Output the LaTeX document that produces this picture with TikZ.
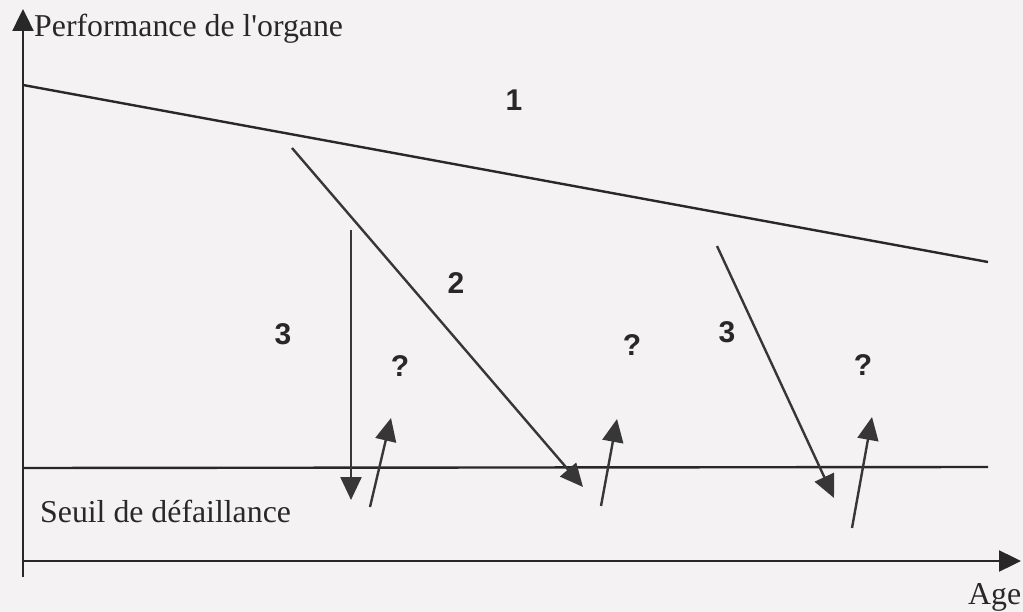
\documentclass[tikz,border=0pt]{standalone}
\usepackage{fontspec}
\setmainfont{Liberation Serif}
\newfontfamily\lblfont{Liberation Sans}
\usetikzlibrary{arrows.meta}
\definecolor{bgc}{RGB}{244,242,242}
\definecolor{inkc}{RGB}{40,40,40}
\definecolor{arrc}{RGB}{55,55,55}
\tikzset{
  serif/.style={inner sep=0pt, text=inkc, font=\fontsize{31.8}{36}\selectfont},
  numlbl/.style={inner sep=0pt, text=inkc, font=\lblfont\bfseries\fontsize{30}{34}\selectfont},
  axisline/.style={draw=inkc, line width=2.4pt, -{Triangle[length=22pt,width=21pt]}},
  plainline/.style={draw=inkc, line width=2.4pt},
  arrowline/.style={draw=arrc, line width=2.4pt, -{Triangle[length=23pt,width=21pt]}},
}
\begin{document}
\begin{tikzpicture}[x=1pt,y=-1pt]
\useasboundingbox (0,0) rectangle (1023,612);
\fill[bgc] (0,0) rectangle (1023,612);
% axes
\coordinate (ybot) at (23,577);
\coordinate (ytop) at (23,9);
\coordinate (xl) at (23,561);
\coordinate (xr) at (1021,561);
\draw[axisline] (ybot) -- (ytop);
\draw[axisline] (xl) -- (xr);
% curve 1 and threshold
\coordinate (c1a) at (23,85);
\coordinate (c1b) at (988,262);
\draw[plainline] (c1a) -- (c1b);
\coordinate (tha) at (23,468);
\coordinate (thb) at (988,467);
\draw[plainline] (tha) -- (thb);
% arrows
\coordinate (a2s) at (292,148);
\coordinate (a2e) at (583,487);
\draw[arrowline] (a2s) -- (a2e);
\coordinate (a3s) at (351,230);
\coordinate (a3e) at (351,500);
\draw[arrowline] (a3s) -- (a3e);
\coordinate (u1s) at (370,507);
\coordinate (u1e) at (391,418);
\draw[arrowline] (u1s) -- (u1e);
\coordinate (u2s) at (601,506);
\coordinate (u2e) at (617,419);
\draw[arrowline] (u2s) -- (u2e);
\coordinate (b3s) at (717,246);
\coordinate (b3e) at (834,498);
\draw[arrowline] (b3s) -- (b3e);
\coordinate (u3s) at (852,528);
\coordinate (u3e) at (872,417);
\draw[arrowline] (u3s) -- (u3e);
% texts
\node[serif, anchor=base west] (perf) at (34,37) {Performance de l\textquotesingle organe};
\node[serif, anchor=base west] (seuil) at (40,522) {Seuil de défaillance};
\node[serif, anchor=base west] (age) at (968,604) {Age};
\node[numlbl] (n1) at (514,100) {1};
\node[numlbl] (n2) at (456,283) {2};
\node[numlbl] (n3a) at (283,334) {3};
\node[numlbl] (q1) at (400,366) {?};
\node[numlbl] (q2) at (632,345) {?};
\node[numlbl] (n3b) at (727,332) {3};
\node[numlbl] (q3) at (863,365) {?};
\end{tikzpicture}
\end{document}
